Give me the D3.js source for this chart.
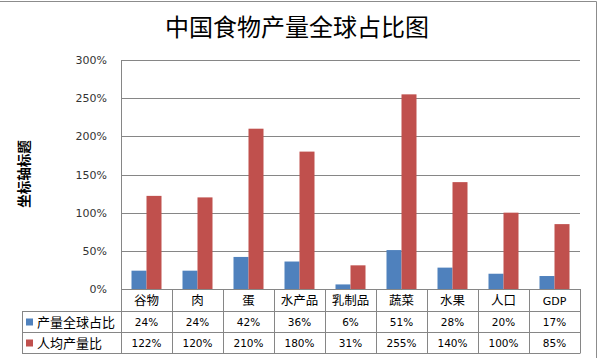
<!DOCTYPE html>
<html><head><meta charset="utf-8">
<script src="https://cdn.jsdelivr.net/npm/d3@7"></script>
<style>html,body{margin:0;padding:0;background:#fff;}svg{display:block;}</style>
</head><body>
<svg id="chart" width="597" height="358"></svg>
<script>
const categories = ["谷物","肉","蛋","水产品","乳制品","蔬菜","水果","人口","GDP"];
const seriesNames = ["产量全球占比","人均产量比"];
const shareValues = [24,24,42,36,6,51,28,20,17];
const perCapitaValues = [122,120,210,180,31,255,140,100,85];
const yTicks = [0,50,100,150,200,250,300];
const colors = ["#4F81BD","#C0504D"];
const title = "中国食物产量全球占比图";
const yAxisTitle = "坐标轴标题";

const svg = d3.select("#chart");
const font = "'Noto Sans CJK SC','Noto Sans',sans-serif";
const L = 121, R = 580, T = 60, B = 289;
const x = d3.scaleBand().domain(categories).range([L, R]);
const y = d3.scaleLinear().domain([0, 300]).range([B, T]);
const xs = d3.scaleBand().domain([0,1]).range([0, x.bandwidth()]).paddingOuter(0.7).paddingInner(0);

// chart border (top / right)
svg.append("line").attr("x1",0).attr("x2",596.5).attr("y1",1.5).attr("y2",1.5).attr("stroke","#8c8c8c");
svg.append("line").attr("x1",596.5).attr("x2",596.5).attr("y1",1.5).attr("y2",358).attr("stroke","#8c8c8c");

// title
svg.append("text").attr("x",297).attr("y",36).attr("text-anchor","middle")
  .attr("font-family",font).attr("font-size",24).attr("fill","#000").text(title);

// gridlines
svg.append("g").selectAll("line").data(yTicks).join("line")
  .attr("x1",L).attr("x2",R).attr("y1",d=>Math.round(y(d))+0.5).attr("y2",d=>Math.round(y(d))+0.5)
  .attr("stroke","#868686").attr("stroke-width",1);

// y axis labels
const yAxis = d3.axisLeft(y).tickValues(yTicks).tickFormat(d=>d+"%").tickSize(0).tickPadding(14);
const ga = svg.append("g").attr("transform",`translate(${L},0)`).call(yAxis);
ga.select(".domain").remove();
ga.selectAll("text").attr("font-family","Verdana,'DejaVu Sans',sans-serif").attr("font-size",11).attr("fill","#333");

// plot left border
svg.append("line").attr("x1",L+0.5).attr("x2",L+0.5).attr("y1",T).attr("y2",353).attr("stroke","#868686");

// bars
const series = [shareValues, perCapitaValues];
series.forEach((vals, si) => {
  svg.append("g").selectAll("rect").data(vals).join("rect")
    .attr("x",(d,i)=>x(categories[i]) + xs(si))
    .attr("width",xs.bandwidth())
    .attr("y",d=>y(d))
    .attr("height",d=>B - y(d))
    .attr("fill",colors[si]);
});

// data table
const rowY = [289, 311.5, 332.5, 353.5];
const tableLeft = 22;
const tg = svg.append("g").attr("stroke","#868686").attr("stroke-width",1);
tg.append("line").attr("x1",tableLeft).attr("x2",R).attr("y1",rowY[1]).attr("y2",rowY[1]);
tg.append("line").attr("x1",tableLeft).attr("x2",R).attr("y1",rowY[2]).attr("y2",rowY[2]);
tg.append("line").attr("x1",tableLeft).attr("x2",R).attr("y1",rowY[3]).attr("y2",rowY[3]);
tg.append("line").attr("x1",tableLeft+0.5).attr("x2",tableLeft+0.5).attr("y1",rowY[1]).attr("y2",rowY[3]);
const seps = categories.map(c => x(c) + x.bandwidth());
tg.selectAll(".sep").data(seps).join("line")
  .attr("x1",d=>Math.round(d)+0.5).attr("x2",d=>Math.round(d)+0.5).attr("y1",B).attr("y2",rowY[3]);

// category labels
svg.append("g").selectAll("text").data(categories).join("text")
  .attr("x",d=>x(d)+x.bandwidth()/2).attr("y",305).attr("text-anchor","middle")
  .attr("font-family",d=>d==="GDP"?"Verdana,'DejaVu Sans',sans-serif":font)
  .attr("font-size",d=>d==="GDP"?11:12.5).attr("fill","#000").text(d=>d);

// values rows + legend keys
series.forEach((vals, si) => {
  svg.append("g").selectAll("text").data(vals).join("text")
    .attr("x",(d,i)=>x(categories[i])+x.bandwidth()/2)
    .attr("y",(rowY[si+1]+rowY[si+2])/2 + 4)
    .attr("text-anchor","middle")
    .attr("font-family","Verdana,'DejaVu Sans',sans-serif").attr("font-size",10.5).attr("fill","#000")
    .text(d=>d+"%");
  svg.append("rect").attr("x",26).attr("y",(rowY[si+1]+rowY[si+2])/2 - 3.5).attr("width",7).attr("height",7).attr("fill",colors[si]);
  svg.append("text").attr("x",37).attr("y",(rowY[si+1]+rowY[si+2])/2 + 5)
    .attr("font-family",font).attr("font-size",13).attr("fill","#000").text(seriesNames[si]);
});

// y axis title
svg.append("text").attr("transform",`translate(29,174) rotate(-90)`).attr("text-anchor","middle")
  .attr("font-family",font).attr("font-size",13.5).attr("font-weight","bold").attr("fill","#000").text(yAxisTitle);
</script>
</body></html>
